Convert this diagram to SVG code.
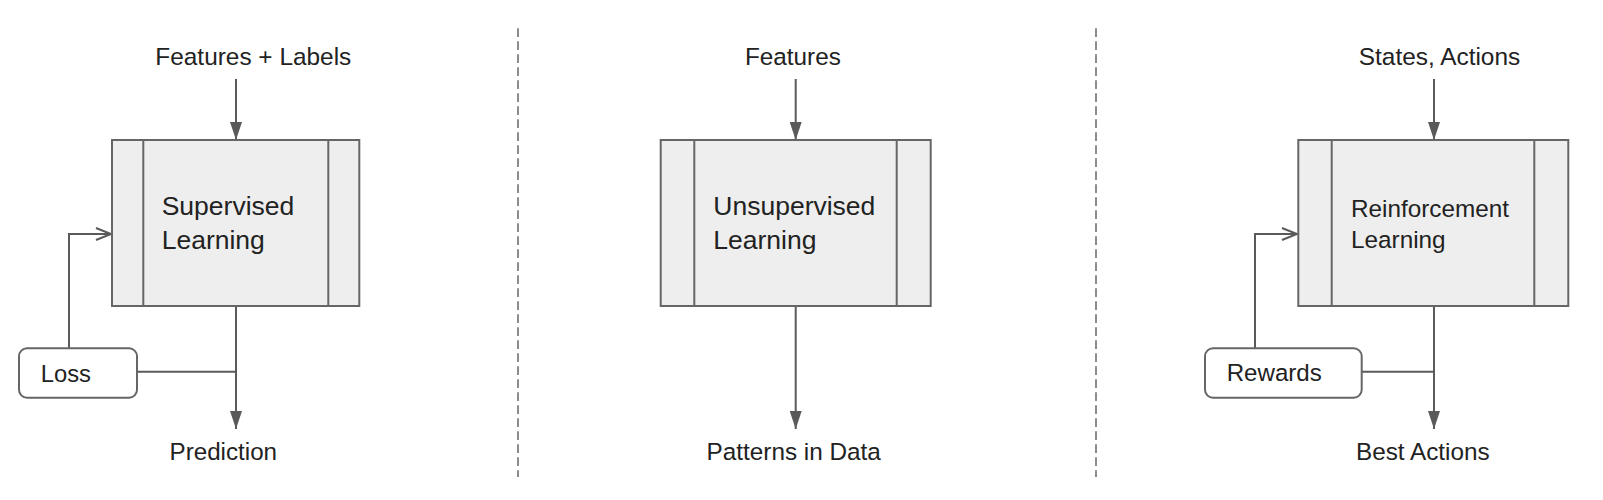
<svg xmlns="http://www.w3.org/2000/svg" width="1603" height="500" viewBox="0 0 1603 500">
  <defs>
    <style>
      .lbl { font-family: "Liberation Sans", Arial, sans-serif; fill: #222222; }
      .box { fill: #eeeeee; stroke: #666666; stroke-width: 2; }
      .div { stroke: #666666; stroke-width: 2; }
      .small { fill: #ffffff; stroke: #666666; stroke-width: 2; }
      .conn { fill: none; stroke: #5a5a5a; stroke-width: 2; }
      .dash { stroke: #8c8c8c; stroke-width: 2; stroke-dasharray: 8.7 4.3; }
    </style>
    <marker id="filled" markerUnits="userSpaceOnUse" markerWidth="18" markerHeight="12" refX="18" refY="6" orient="auto">
      <path d="M0,0 L18,6 L0,12 z" fill="#5a5a5a"/>
    </marker>
    <marker id="open" markerUnits="userSpaceOnUse" markerWidth="18" markerHeight="14" refX="16" refY="7" orient="auto">
      <path d="M1,1 L16,7 L1,13" fill="none" stroke="#5a5a5a" stroke-width="2"/>
    </marker>
  </defs>
  <rect x="0" y="0" width="1603" height="500" fill="#ffffff"/>

  <g id="dividers">
    <line class="dash" x1="518" y1="28.3" x2="518" y2="477"/>
    <line class="dash" x1="1096" y1="28.3" x2="1096" y2="477"/>
  </g>

  <g id="connectors">
    <line class="conn" x1="236" y1="79" x2="236" y2="140" marker-end="url(#filled)"/>
    <line class="conn" x1="236" y1="306" x2="236" y2="429" marker-end="url(#filled)"/>
    <line class="conn" x1="137" y1="371.7" x2="237" y2="371.7"/>
    <path class="conn" d="M69,348.3 V234 H111" marker-end="url(#open)"/>

    <line class="conn" x1="795.7" y1="79" x2="795.7" y2="140" marker-end="url(#filled)"/>
    <line class="conn" x1="795.7" y1="306" x2="795.7" y2="429" marker-end="url(#filled)"/>

    <line class="conn" x1="1434" y1="79" x2="1434" y2="140" marker-end="url(#filled)"/>
    <line class="conn" x1="1434" y1="306" x2="1434" y2="429" marker-end="url(#filled)"/>
    <line class="conn" x1="1361.7" y1="371.7" x2="1434" y2="371.7"/>
    <path class="conn" d="M1255,348.3 V234 H1297" marker-end="url(#open)"/>
  </g>

  <g id="supervised">
    <rect class="box" x="112" y="140" width="247.3" height="166"/>
    <line class="div" x1="143.3" y1="140" x2="143.3" y2="306"/>
    <line class="div" x1="328.3" y1="140" x2="328.3" y2="306"/>
    <text class="lbl" x="161.7" y="215" font-size="26.5">Supervised</text>
    <text class="lbl" x="161.7" y="249" font-size="26.5">Learning</text>
  </g>
  <g id="supervised-input">
    <text class="lbl" x="253.3" y="64.5" font-size="24.4" text-anchor="middle">Features + Labels</text>
  </g>
  <g id="supervised-output">
    <text class="lbl" x="223.3" y="460" font-size="24.2" text-anchor="middle">Prediction</text>
  </g>
  <g id="loss">
    <rect class="small" x="19" y="348.3" width="118" height="49.4" rx="8"/>
    <text class="lbl" x="40.7" y="381.7" font-size="23.8">Loss</text>
  </g>

  <g id="unsupervised">
    <rect class="box" x="660.7" y="140" width="270" height="166"/>
    <line class="div" x1="694.3" y1="140" x2="694.3" y2="306"/>
    <line class="div" x1="896.7" y1="140" x2="896.7" y2="306"/>
    <text class="lbl" x="713.3" y="215" font-size="26.5">Unsupervised</text>
    <text class="lbl" x="713.3" y="249" font-size="26.5">Learning</text>
  </g>
  <g id="unsupervised-input">
    <text class="lbl" x="792.9" y="64.5" font-size="24.3" text-anchor="middle">Features</text>
  </g>
  <g id="unsupervised-output">
    <text class="lbl" x="793.7" y="460" font-size="24.3" text-anchor="middle">Patterns in Data</text>
  </g>

  <g id="reinforcement">
    <rect class="box" x="1298.3" y="140" width="270" height="166"/>
    <line class="div" x1="1331.7" y1="140" x2="1331.7" y2="306"/>
    <line class="div" x1="1534.3" y1="140" x2="1534.3" y2="306"/>
    <text class="lbl" x="1351" y="216.5" font-size="24.3">Reinforcement</text>
    <text class="lbl" x="1351" y="247.7" font-size="24.3">Learning</text>
  </g>
  <g id="reinforcement-input">
    <text class="lbl" x="1439.5" y="64.5" font-size="24.4" text-anchor="middle">States, Actions</text>
  </g>
  <g id="reinforcement-output">
    <text class="lbl" x="1422.8" y="460" font-size="24.3" text-anchor="middle">Best Actions</text>
  </g>
  <g id="rewards">
    <rect class="small" x="1205" y="348.3" width="156.7" height="49.4" rx="8"/>
    <text class="lbl" x="1226.7" y="381" font-size="24.1">Rewards</text>
  </g>
</svg>
